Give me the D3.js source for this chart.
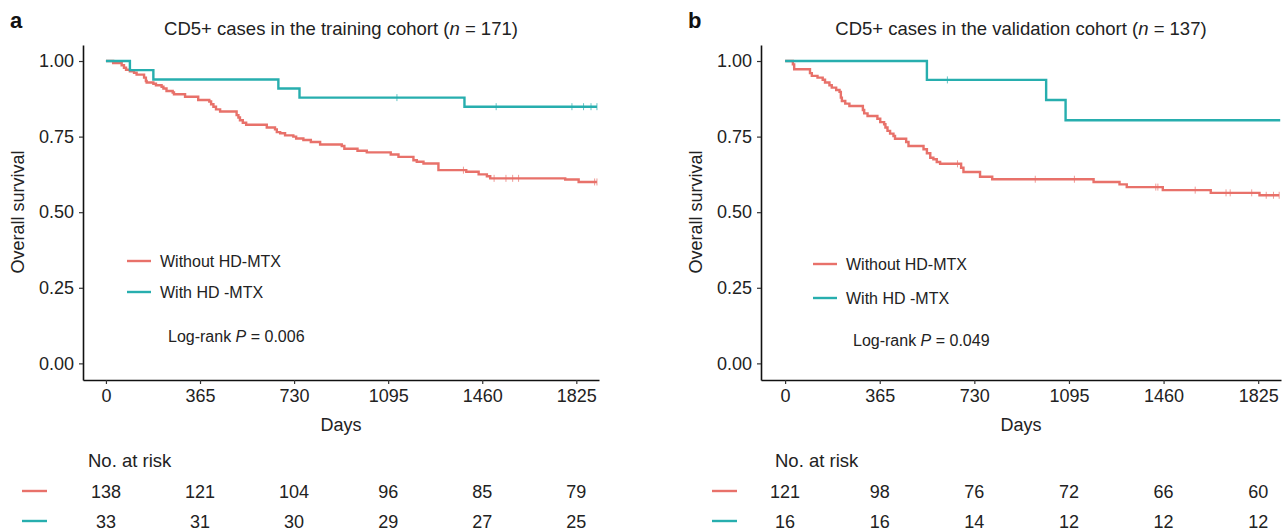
<!DOCTYPE html>
<html>
<head>
<meta charset="utf-8">
<script src="https://cdn.jsdelivr.net/npm/d3@7"></script>
<style>
  body { margin: 0; background: #fff; }
  svg { font-family: "Liberation Sans", Arial, sans-serif; }
</style>
</head>
<body>
<div id="chart"></div>
<script>
// ticks
const dayTicks = [0, 365, 730, 1095, 1460, 1825];
const survTicks = [0, 0.25, 0.5, 0.75, 1];
const groupNames = ["Without HD-MTX", "With HD -MTX"];

// panel a, training cohort: [day, survival after drop]
const trainWithout = [
  [0, 1], [28, 0.993], [61, 0.986], [70, 0.978], [78, 0.971], [93, 0.966], [109, 0.961],
  [119, 0.955], [148, 0.945], [155, 0.934], [158, 0.929], [184, 0.925], [194, 0.920],
  [216, 0.915], [223, 0.909], [235, 0.901], [259, 0.896], [264, 0.890], [307, 0.882],
  [358, 0.871], [401, 0.866], [408, 0.857], [417, 0.849], [427, 0.840], [443, 0.833],
  [507, 0.821], [514, 0.813], [520, 0.804], [531, 0.796], [544, 0.789], [624, 0.780],
  [656, 0.774], [663, 0.765], [676, 0.761], [695, 0.754], [727, 0.750], [738, 0.744],
  [766, 0.739], [795, 0.732], [831, 0.724], [915, 0.719], [925, 0.710], [976, 0.703],
  [1012, 0.698], [1105, 0.691], [1135, 0.683], [1193, 0.672], [1206, 0.667], [1232, 0.661],
  [1290, 0.639], [1398, 0.634], [1446, 0.625], [1478, 0.619], [1491, 0.612], [1782, 0.608],
  [1834, 0.600]
];
const trainWithoutCensor = [1387, 1506, 1552, 1578, 1601, 1896, 1905];
const trainWith = [[0, 1], [93, 0.970], [184, 0.939], [669, 0.909], [751, 0.879], [1391, 0.849]];
const trainWithCensor = [1129, 1514, 1808, 1853, 1882, 1905];

// panel b, validation cohort
const validWithout = [
  [0, 1], [30, 0.989], [35, 0.973], [96, 0.960], [103, 0.951], [125, 0.945], [145, 0.938],
  [154, 0.929], [171, 0.920], [180, 0.912], [197, 0.904], [210, 0.898], [215, 0.879],
  [219, 0.868], [232, 0.859], [248, 0.851], [300, 0.838], [305, 0.827], [318, 0.818],
  [356, 0.809], [367, 0.798], [382, 0.791], [387, 0.780], [395, 0.769], [405, 0.760],
  [418, 0.752], [424, 0.743], [467, 0.732], [476, 0.719], [534, 0.708], [547, 0.695],
  [560, 0.680], [572, 0.675], [585, 0.666], [598, 0.660], [679, 0.647], [688, 0.633],
  [752, 0.617], [799, 0.609], [1190, 0.600], [1290, 0.592], [1318, 0.583], [1457, 0.573],
  [1642, 0.564], [1830, 0.556]
];
const validWithoutCensor = [665, 965, 1116, 1430, 1438, 1582, 1701, 1717, 1800, 1856, 1884, 1906];
const validWith = [[0, 1], [547, 0.9375], [1007, 0.871], [1082, 0.804]];
const validWithCensor = [626];
const validWithEnd = 1910;

// numbers at risk
const riskTrainWithout = [138, 121, 104, 96, 85, 79];
const riskTrainWith = [33, 31, 30, 29, 27, 25];
const riskValidWithout = [121, 98, 76, 72, 66, 60];
const riskValidWith = [16, 16, 14, 12, 12, 12];

const colors = ["#E8716A", "#27AEAE"];

const svg = d3.select("#chart").append("svg")
  .attr("width", 1287)
  .attr("height", 530);

const panels = [
  {
    letter: "a", title: "training cohort", n: 171, p: "0.006",
    left: 83, right: 599, xDomain: [-89, 1913],
    legX: 127, legY: [261, 292], pX: 168, pY: 342,
    dashX: 22, riskLabelX: 88,
    series: [
      { steps: trainWithout, censor: trainWithoutCensor, risk: riskTrainWithout },
      { steps: trainWith, censor: trainWithCensor, risk: riskTrainWith }
    ]
  },
  {
    letter: "b", title: "validation cohort", n: 137, p: "0.049",
    left: 761, right: 1281, xDomain: [-93, 1913],
    legX: 813, legY: [264, 298], pX: 853, pY: 346,
    dashX: 712, riskLabelX: 775,
    series: [
      { steps: validWithout, censor: validWithoutCensor, risk: riskValidWithout },
      { steps: validWith, censor: validWithCensor, risk: riskValidWith, end: validWithEnd }
    ]
  }
];

const y = d3.scaleLinear()
  .domain([-0.055, 1.053])
  .range([380, 45]);

const bisect = d3.bisector(d => d[0]).right;
function survAt(steps, t) {
  return steps[Math.max(0, bisect(steps, t) - 1)][1];
}

panels.forEach(P => {
  const x = d3.scaleLinear().domain(P.xDomain).range([P.left, P.right]);
  const g = svg.append("g");
  const mid = (P.left + P.right) / 2;

  g.append("text")
    .attr("x", P.left - 73)
    .attr("y", 28)
    .attr("font-size", 22)
    .attr("font-weight", "bold")
    .attr("fill", "#111")
    .text(P.letter);

  const title = g.append("text")
    .attr("x", mid)
    .attr("y", 35)
    .attr("text-anchor", "middle")
    .attr("font-size", 18.5)
    .attr("fill", "#222");
  title.append("tspan").text("CD5+ cases in the " + P.title + " (");
  title.append("tspan").attr("font-style", "italic").text("n");
  title.append("tspan").text(" = " + P.n + ")");

  // axes
  g.append("g")
    .attr("transform", "translate(0,380)")
    .call(d3.axisBottom(x).tickValues(dayTicks).tickFormat(d3.format("d")).tickSize(4).tickSizeOuter(0).tickPadding(5))
    .call(a => a.select(".domain").attr("stroke", "#111").attr("stroke-width", 1.6))
    .call(a => a.selectAll(".tick line").attr("stroke", "#333").attr("stroke-width", 1.2))
    .call(a => a.selectAll(".tick text").attr("font-size", 18).attr("fill", "#222")
      .attr("font-family", "Liberation Sans, Arial, sans-serif"));

  g.append("g")
    .attr("transform", `translate(${P.left},0)`)
    .call(d3.axisLeft(y).tickValues(survTicks).tickFormat(d3.format(".2f")).tickSize(4).tickSizeOuter(0).tickPadding(5))
    .call(a => a.select(".domain").attr("stroke", "#111").attr("stroke-width", 1.6))
    .call(a => a.selectAll(".tick line").attr("stroke", "#333").attr("stroke-width", 1.2))
    .call(a => a.selectAll(".tick text").attr("font-size", 18).attr("fill", "#222")
      .attr("font-family", "Liberation Sans, Arial, sans-serif"));

  g.append("text")
    .attr("x", mid)
    .attr("y", 431)
    .attr("text-anchor", "middle")
    .attr("font-size", 18)
    .attr("fill", "#222")
    .text("Days");

  g.append("text")
    .attr("transform", `translate(${P.left - 59},212) rotate(-90)`)
    .attr("text-anchor", "middle")
    .attr("font-size", 18)
    .attr("fill", "#222")
    .text("Overall survival");

  // curves
  const line = d3.line()
    .curve(d3.curveStepAfter)
    .x(d => x(d[0]))
    .y(d => y(d[1]));

  P.series.forEach((s, i) => {
    const end = s.end || Math.max(d3.max(s.censor), s.steps[s.steps.length - 1][0]);
    const pts = s.steps.concat([[end, s.steps[s.steps.length - 1][1]]]);
    g.append("path")
      .datum(pts)
      .attr("fill", "none")
      .attr("stroke", colors[i])
      .attr("stroke-width", 2.4)
      .attr("d", line);

    g.selectAll(null)
      .data(s.censor)
      .join("line")
      .attr("x1", d => x(d))
      .attr("x2", d => x(d))
      .attr("y1", d => y(survAt(s.steps, d)) - 3.5)
      .attr("y2", d => y(survAt(s.steps, d)) + 3.5)
      .attr("stroke", colors[i])
      .attr("stroke-opacity", 0.7)
      .attr("stroke-width", 1);

    // legend
    g.append("line")
      .attr("x1", P.legX).attr("x2", P.legX + 24)
      .attr("y1", P.legY[i]).attr("y2", P.legY[i])
      .attr("stroke", colors[i])
      .attr("stroke-width", 2.4);
    g.append("text")
      .attr("x", P.legX + 33)
      .attr("y", P.legY[i] + 5.5)
      .attr("font-size", 16)
      .attr("fill", "#222")
      .text(groupNames[i]);

    // risk table row
    const ry = 491 + i * 30;
    g.append("line")
      .attr("x1", P.dashX).attr("x2", P.dashX + 25)
      .attr("y1", ry).attr("y2", ry)
      .attr("stroke", colors[i])
      .attr("stroke-width", 2.4);
    g.selectAll(null)
      .data(s.risk)
      .join("text")
      .attr("x", (d, k) => x(dayTicks[k]))
      .attr("y", ry + 6.5)
      .attr("text-anchor", "middle")
      .attr("font-size", 18)
      .attr("fill", "#222")
      .text(d => d);
  });

  const pt = g.append("text")
    .attr("x", P.pX)
    .attr("y", P.pY)
    .attr("font-size", 16)
    .attr("fill", "#222");
  pt.append("tspan").text("Log-rank ");
  pt.append("tspan").attr("font-style", "italic").text("P");
  pt.append("tspan").text(" = " + P.p);

  g.append("text")
    .attr("x", P.riskLabelX)
    .attr("y", 467)
    .attr("font-size", 18.5)
    .attr("fill", "#222")
    .text("No. at risk");
});
</script>
</body>
</html>
